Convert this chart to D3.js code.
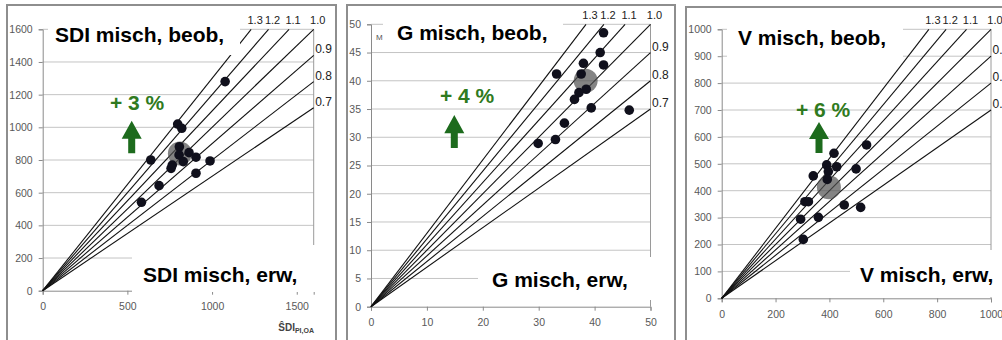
<!DOCTYPE html>
<html>
<head>
<meta charset="utf-8">
<script src="https://cdn.jsdelivr.net/npm/d3@7"></script>
<style>
  body { margin: 0; background: #fff; }
  svg { display: block; font-family: "Liberation Sans", Arial, sans-serif; }
</style>
</head>
<body>
<div id="chart"></div>
<script>
// ratio lines (beob / erw)
const ratios = [0.7, 0.8, 0.9, 1.0, 1.1, 1.2, 1.3];

// SDI panel
const sdiErw = [1077, 797, 821, 807, 805, 864, 830, 905, 765, 758, 638, 988, 905, 687, 583];
const sdiBeob = [1280, 1020, 994, 881, 831, 845, 790, 817, 769, 749, 800, 794, 719, 643, 541];
const sdiMean = [810, 840];
const sdiTicksX = [0, 500, 1000, 1500];
const sdiTicksY = [0, 200, 400, 600, 800, 1000, 1200, 1400, 1600];

// G panel
const gErw = [41.6, 33.2, 38.0, 37.6, 41.0, 41.6, 38.5, 37.2, 36.4, 39.4, 46.2, 34.6, 33.0, 29.9];
const gBeob = [48.5, 41.2, 43.1, 41.2, 45.0, 42.8, 38.5, 37.9, 36.7, 35.2, 34.8, 32.5, 29.6, 28.9];
const gMean = [38.4, 40.0];
const gTicksX = [0, 10, 20, 30, 40, 50];
const gTicksY = [0, 5, 10, 15, 20, 25, 30, 35, 40, 45, 50];

// V panel
const vErw = [538, 417, 390, 427, 396, 340, 392, 499, 309, 322, 293, 359, 455, 516, 303];
const vBeob = [570, 539, 496, 489, 471, 455, 442, 481, 359, 359, 294, 301, 347, 338, 219];
const vMean = [398, 413];
const vTicksX = [0, 200, 400, 600, 800, 1000];
const vTicksY = [0, 100, 200, 300, 400, 500, 600, 700, 800, 900, 1000];

const titles = ["SDI misch, beob,", "G misch, beob,", "V misch, beob,"];
const xTitles = ["SDI misch, erw,", "G misch, erw,", "V misch, erw,"];
const changes = ["+ 3 %", "+ 4 %", "+ 6 %"];

const width = 1002, height = 340;
const svg = d3.select("#chart").append("svg")
    .attr("width", width)
    .attr("height", height);

// layout of each panel (pixel boxes)
const panels = [
  { erw: sdiErw, beob: sdiBeob, mean: sdiMean, ticksX: sdiTicksX, ticksY: sdiTicksY, max: 1600,
    frame: [7, 5, 329, 345], plot: [42.7, 313.7, 29.3, 290.7],
    titleBox: [48, 12, 192, 43], title: [55, 42],
    xBox: [132, 245, 184, 47], xTitle: [143, 282],
    change: [110, 110], arrow: [131.7, 120.7, 153.3] },
  { erw: gErw, beob: gBeob, mean: gMean, ticksX: gTicksX, ticksY: gTicksY, max: 50,
    frame: [347, 5, 328, 345], plot: [371, 650.5, 24.3, 306.7],
    titleBox: [383, 10, 180, 40], title: [397, 40],
    xBox: [478, 257, 174, 43], xTitle: [492, 287],
    change: [440, 103], arrow: [454.3, 115, 148] },
  { erw: vErw, beob: vBeob, mean: vMean, ticksX: vTicksX, ticksY: vTicksY, max: 1000,
    frame: [686, 7, 330, 345], plot: [721.7, 991, 29.3, 298.3],
    titleBox: [727, 18, 176, 44], title: [738, 45],
    xBox: [850, 250, 160, 47], xTitle: [860, 282],
    change: [796, 117], arrow: [819, 122, 153] }
];

panels.forEach((p, i) => {
  const [left, right, top, bottom] = p.plot;
  const x = d3.scaleLinear().domain([0, p.max]).range([left, right]);
  const y = d3.scaleLinear().domain([0, p.max]).range([bottom, top]);
  const g = svg.append("g");

  // panel frame
  g.append("rect")
    .attr("x", p.frame[0]).attr("y", p.frame[1])
    .attr("width", p.frame[2]).attr("height", p.frame[3])
    .attr("fill", "#fff")
    .attr("stroke", "#8e8e8e")
    .attr("stroke-width", 2);

  // horizontal gridlines
  g.append("g")
    .selectAll("line")
    .data(p.ticksY.slice(1))
    .enter()
    .append("line")
    .attr("x1", left).attr("x2", right)
    .attr("y1", d => y(d)).attr("y2", d => y(d))
    .attr("stroke", "#c4c4c4");

  // right border of plot area
  g.append("line")
    .attr("x1", right).attr("x2", right)
    .attr("y1", top).attr("y2", bottom)
    .attr("stroke", "#9a9a9a");

  // axes
  const yAxis = g.append("g")
    .attr("transform", `translate(${left},0)`)
    .call(d3.axisLeft(y).tickValues(p.ticksY).tickSize(4).tickPadding(6).tickFormat(d3.format("d")));
  const xAxis = g.append("g")
    .attr("transform", `translate(0,${bottom})`)
    .call(d3.axisBottom(x).tickValues(p.ticksX).tickSize(4).tickPadding(8).tickFormat(d3.format("d")));
  [yAxis, xAxis].forEach(a => {
    a.select(".domain").attr("stroke", "#8a8a8a");
    a.selectAll(".tick line").attr("stroke", "#8a8a8a");
    a.selectAll(".tick text")
      .attr("fill", "#595959")
      .style("font-size", "10.5px")
      .style("font-family", "'Liberation Sans', Arial, sans-serif");
  });

  // ratio lines from origin
  const ends = ratios.map(k => {
    const ex = Math.min(p.max, p.max / k);
    return { k: k, x: ex, y: k * ex };
  });
  g.append("g")
    .selectAll("line")
    .data(ends)
    .enter()
    .append("line")
    .attr("x1", x(0)).attr("y1", y(0))
    .attr("x2", d => x(d.x)).attr("y2", d => y(d.y))
    .attr("stroke", "#111")
    .attr("stroke-width", 1.1);

  // ratio labels: above the plot for >= 1, right of it below 1
  g.append("g")
    .selectAll("text")
    .data(ends)
    .enter()
    .append("text")
    .attr("x", d => d.k >= 1 ? x(d.x) + 4 : right + 1.5)
    .attr("y", d => d.k >= 1 ? top - 5 : y(d.y) - 2)
    .attr("text-anchor", d => d.k >= 1 ? "middle" : "start")
    .attr("fill", "#222")
    .style("font-size", d => d.k >= 1 ? "11px" : "12px")
    .text(d => d3.format(".1f")(d.k));

  // mean circle
  g.append("circle")
    .attr("cx", x(p.mean[0])).attr("cy", y(p.mean[1]))
    .attr("r", 12)
    .attr("fill", "#505050")
    .attr("opacity", 0.7);

  // observations
  g.append("g")
    .selectAll("circle")
    .data(p.erw.map((v, j) => [v, p.beob[j]]))
    .enter()
    .append("circle")
    .attr("cx", d => x(d[0])).attr("cy", d => y(d[1]))
    .attr("r", 4.8)
    .attr("fill", "#10101c");

  // title box (covers lines)
  g.append("rect")
    .attr("x", p.titleBox[0]).attr("y", p.titleBox[1])
    .attr("width", p.titleBox[2]).attr("height", p.titleBox[3])
    .attr("fill", "#fff");
  g.append("text")
    .attr("x", p.title[0]).attr("y", p.title[1])
    .attr("fill", "#000")
    .style("font-size", "21px")
    .style("font-weight", "bold")
    .text(titles[i]);

  g.append("rect")
    .attr("x", p.xBox[0]).attr("y", p.xBox[1])
    .attr("width", p.xBox[2]).attr("height", p.xBox[3])
    .attr("fill", "#fff");
  g.append("text")
    .attr("x", p.xTitle[0]).attr("y", p.xTitle[1])
    .attr("fill", "#000")
    .style("font-size", "21px")
    .style("font-weight", "bold")
    .text(xTitles[i]);

  // change label and arrow
  g.append("text")
    .attr("x", p.change[0]).attr("y", p.change[1])
    .attr("fill", "#2f7a20")
    .style("font-size", "21px")
    .style("font-weight", "bold")
    .text(changes[i]);

  const [cx, at, ab] = p.arrow;
  const headBase = at + (ab - at) * 0.55;
  g.append("path")
    .attr("d", `M${cx},${at} L${cx + 10},${headBase} L${cx + 3.5},${headBase} L${cx + 3.5},${ab}
                L${cx - 3.5},${ab} L${cx - 3.5},${headBase} L${cx - 10},${headBase} Z`)
    .attr("fill", "#1d6b1d");
});

// axis caption in the first panel
const cap = svg.append("text")
  .attr("x", 314).attr("y", 331)
  .attr("text-anchor", "end")
  .attr("fill", "#444")
  .style("font-size", "10px")
  .style("font-weight", "bold");
cap.append("tspan").text("ŜDI");
cap.append("tspan").attr("dy", 2).style("font-size", "7px").text("PI,OA");

// partly hidden axis caption in the second panel
svg.append("text")
  .attr("x", 376).attr("y", 40)
  .attr("fill", "#555")
  .style("font-size", "8px")
  .text("M");
</script>
</body>
</html>
